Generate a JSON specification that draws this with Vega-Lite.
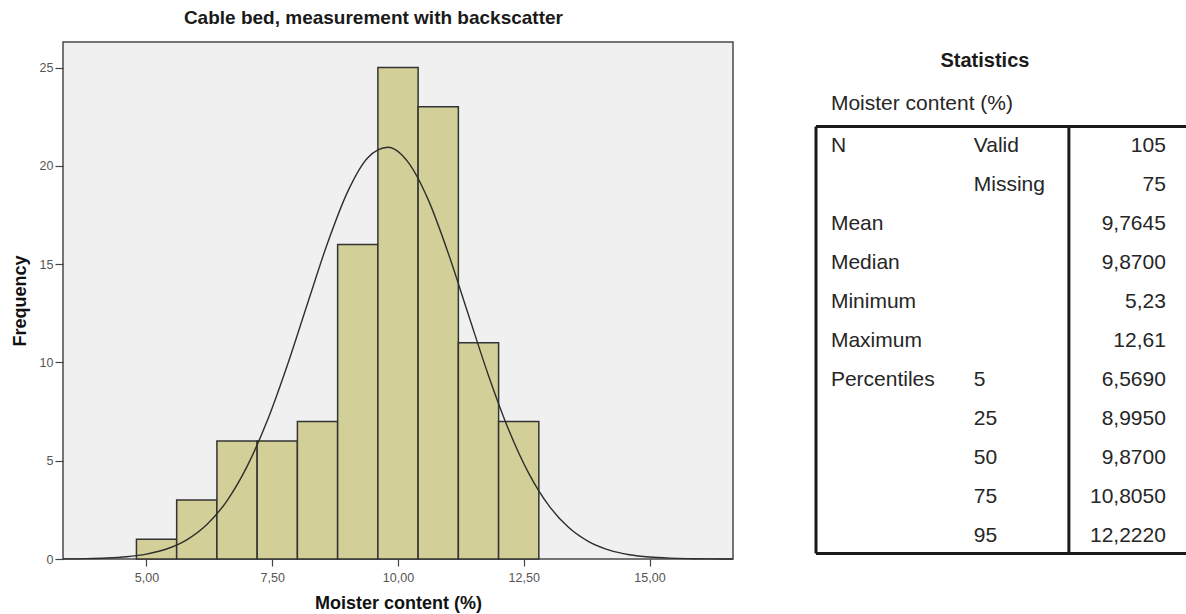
{
  "$schema": "https://vega.github.io/schema/vega-lite/v6.json",
  "description": "Histogram of moisture content with a fitted normal curve, next to a table of summary statistics.",
  "padding": {"left": 10, "top": 8, "right": 0, "bottom": 0},
  "background": "white",
  "spacing": 77,
  "config": {
    "view": {"stroke": null},
    "font": "Liberation Sans"
  },
  "datasets": {
    "bins": [
      {"bin_start": 4.8, "bin_end": 5.6, "count": 1},
      {"bin_start": 5.6, "bin_end": 6.4, "count": 3},
      {"bin_start": 6.4, "bin_end": 7.2, "count": 6},
      {"bin_start": 7.2, "bin_end": 8.0, "count": 6},
      {"bin_start": 8.0, "bin_end": 8.8, "count": 7},
      {"bin_start": 8.8, "bin_end": 9.6, "count": 16},
      {"bin_start": 9.6, "bin_end": 10.4, "count": 25},
      {"bin_start": 10.4, "bin_end": 11.2, "count": 23},
      {"bin_start": 11.2, "bin_end": 12.0, "count": 11},
      {"bin_start": 12.0, "bin_end": 12.8, "count": 7}
    ],
    "curve": [
      {"moisture": 3.34, "frequency": 0.007},
      {"moisture": 3.8, "frequency": 0.020},
      {"moisture": 4.2, "frequency": 0.050},
      {"moisture": 4.6, "frequency": 0.115},
      {"moisture": 5.0, "frequency": 0.249},
      {"moisture": 5.4, "frequency": 0.507},
      {"moisture": 5.8, "frequency": 0.973},
      {"moisture": 6.2, "frequency": 1.751},
      {"moisture": 6.6, "frequency": 2.962},
      {"moisture": 7.0, "frequency": 4.709},
      {"moisture": 7.4, "frequency": 7.029},
      {"moisture": 7.8, "frequency": 9.859},
      {"moisture": 8.2, "frequency": 12.989},
      {"moisture": 8.6, "frequency": 16.075},
      {"moisture": 9.0, "frequency": 18.690},
      {"moisture": 9.4, "frequency": 20.413},
      {"moisture": 9.8, "frequency": 20.945},
      {"moisture": 10.2, "frequency": 20.188},
      {"moisture": 10.6, "frequency": 18.280},
      {"moisture": 11.0, "frequency": 15.550},
      {"moisture": 11.4, "frequency": 12.425},
      {"moisture": 11.8, "frequency": 9.327},
      {"moisture": 12.2, "frequency": 6.577},
      {"moisture": 12.6, "frequency": 4.357},
      {"moisture": 13.0, "frequency": 2.711},
      {"moisture": 13.4, "frequency": 1.585},
      {"moisture": 13.8, "frequency": 0.871},
      {"moisture": 14.2, "frequency": 0.449},
      {"moisture": 14.6, "frequency": 0.218},
      {"moisture": 15.0, "frequency": 0.099},
      {"moisture": 15.4, "frequency": 0.042},
      {"moisture": 15.8, "frequency": 0.017},
      {"moisture": 16.2, "frequency": 0.006},
      {"moisture": 16.66, "frequency": 0.002}
    ],
    "stats": [
      {"row": 1, "stat": "N", "sub": "Valid", "value": "105"},
      {"row": 2, "stat": "", "sub": "Missing", "value": "75"},
      {"row": 3, "stat": "Mean", "sub": "", "value": "9,7645"},
      {"row": 4, "stat": "Median", "sub": "", "value": "9,8700"},
      {"row": 5, "stat": "Minimum", "sub": "", "value": "5,23"},
      {"row": 6, "stat": "Maximum", "sub": "", "value": "12,61"},
      {"row": 7, "stat": "Percentiles", "sub": "5", "value": "6,5690"},
      {"row": 8, "stat": "", "sub": "25", "value": "8,9950"},
      {"row": 9, "stat": "", "sub": "50", "value": "9,8700"},
      {"row": 10, "stat": "", "sub": "75", "value": "10,8050"},
      {"row": 11, "stat": "", "sub": "95", "value": "12,2220"}
    ],
    "one": [{}]
  },
  "hconcat": [
    {
      "width": 670,
      "height": 517,
      "title": {
        "text": "Cable bed, measurement with backscatter",
        "frame": "bounds",
        "anchor": "middle",
        "font": "Liberation Sans",
        "fontSize": 19,
        "fontWeight": "bold",
        "color": "#1a1a1a",
        "offset": 14
      },
      "view": {"fill": "#f0f0f0", "stroke": "#4a4a4a", "strokeWidth": 1.5},
      "layer": [
        {
          "data": {"name": "bins"},
          "mark": {"type": "bar", "fill": "#d3cf98", "stroke": "#333333", "strokeWidth": 1.5},
          "encoding": {
            "x": {
              "field": "bin_start",
              "type": "quantitative",
              "scale": {"domain": [3.34, 16.66], "nice": false, "zero": false},
              "axis": {
                "values": [5, 7.5, 10, 12.5, 15],
                "labelExpr": "replace(format(datum.value, '.2f'), '.', ',')",
                "grid": false,
                "domain": false,
                "tickSize": 7,
                "tickColor": "#444444",
                "tickWidth": 1.2,
                "labelFont": "Liberation Sans",
                "labelFontSize": 12.5,
                "labelColor": "#555555",
                "labelPadding": 5,
                "title": "Moister content (%)",
                "titleFont": "Liberation Sans",
                "titleFontSize": 18,
                "titleFontWeight": "bold",
                "titleColor": "#111111",
                "titlePadding": 11
              }
            },
            "x2": {"field": "bin_end"},
            "y": {
              "field": "count",
              "type": "quantitative",
              "scale": {"domain": [0, 26.3], "nice": false},
              "axis": {
                "values": [0, 5, 10, 15, 20, 25],
                "format": "d",
                "grid": false,
                "domain": false,
                "tickSize": 8,
                "tickColor": "#444444",
                "tickWidth": 1.2,
                "labelFont": "Liberation Sans",
                "labelFontSize": 12.5,
                "labelColor": "#555555",
                "labelPadding": 2,
                "title": "Frequency",
                "titleFont": "Liberation Sans",
                "titleFontSize": 18,
                "titleFontWeight": "bold",
                "titleColor": "#111111",
                "titlePadding": 10
              }
            },
            "y2": {"datum": 0}
          }
        },
        {
          "data": {"name": "curve"},
          "mark": {"type": "line", "color": "#2e2e2e", "strokeWidth": 1.4, "interpolate": "monotone"},
          "encoding": {
            "x": {"field": "moisture", "type": "quantitative", "title": "Moister content (%)"},
            "y": {"field": "frequency", "type": "quantitative", "title": "Frequency"}
          }
        }
      ]
    },
    {
      "width": 373,
      "height": 517,
      "view": {"stroke": null},
      "layer": [
        {
          "data": {"name": "one"},
          "mark": {"type": "rule", "color": "#1a1a1a", "strokeWidth": 3},
          "encoding": {
            "x": {"datum": 0, "type": "quantitative", "scale": {"domain": [0, 100], "nice": false, "zero": false}, "axis": null},
            "x2": {"datum": 100},
            "y": {"datum": 0.5, "type": "quantitative", "scale": {"domain": [-1.667, 11.59], "nice": false, "zero": false, "reverse": true}, "axis": null}
          }
        },
        {
          "data": {"name": "one"},
          "mark": {"type": "rule", "color": "#1a1a1a", "strokeWidth": 3},
          "encoding": {
            "x": {"datum": 0, "type": "quantitative"},
            "x2": {"datum": 100},
            "y": {"datum": 11.45, "type": "quantitative"}
          }
        },
        {
          "data": {"name": "one"},
          "mark": {"type": "rule", "color": "#1a1a1a", "strokeWidth": 3},
          "encoding": {
            "x": {"datum": 0, "type": "quantitative"},
            "y": {"datum": 0.5, "type": "quantitative"},
            "y2": {"datum": 11.45}
          }
        },
        {
          "data": {"name": "one"},
          "mark": {"type": "rule", "color": "#1a1a1a", "strokeWidth": 3},
          "encoding": {
            "x": {"datum": 67.8, "type": "quantitative"},
            "y": {"datum": 0.5, "type": "quantitative"},
            "y2": {"datum": 11.45}
          }
        },
        {
          "data": {"name": "one"},
          "mark": {"type": "text", "text": "Statistics", "font": "Liberation Sans", "fontSize": 20, "fontWeight": "bold", "color": "#1a1a1a", "align": "center", "baseline": "middle"},
          "encoding": {
            "x": {"datum": 45.3, "type": "quantitative"},
            "y": {"datum": -1.18, "type": "quantitative"}
          }
        },
        {
          "data": {"name": "one"},
          "mark": {"type": "text", "text": "Moister content (%)", "font": "Liberation Sans", "fontSize": 21, "color": "#262626", "align": "left", "baseline": "middle"},
          "encoding": {
            "x": {"datum": 4.0, "type": "quantitative"},
            "y": {"datum": -0.08, "type": "quantitative"}
          }
        },
        {
          "data": {"name": "stats"},
          "mark": {"type": "text", "font": "Liberation Sans", "fontSize": 21, "color": "#262626", "align": "left", "baseline": "middle"},
          "encoding": {
            "x": {"datum": 4.0, "type": "quantitative"},
            "y": {"field": "row", "type": "quantitative"},
            "text": {"field": "stat"}
          }
        },
        {
          "data": {"name": "stats"},
          "mark": {"type": "text", "font": "Liberation Sans", "fontSize": 21, "color": "#262626", "align": "left", "baseline": "middle"},
          "encoding": {
            "x": {"datum": 42.3, "type": "quantitative"},
            "y": {"field": "row", "type": "quantitative"},
            "text": {"field": "sub"}
          }
        },
        {
          "data": {"name": "stats"},
          "mark": {"type": "text", "font": "Liberation Sans", "fontSize": 21, "color": "#262626", "align": "right", "baseline": "middle"},
          "encoding": {
            "x": {"datum": 93.8, "type": "quantitative"},
            "y": {"field": "row", "type": "quantitative"},
            "text": {"field": "value"}
          }
        }
      ]
    }
  ]
}
